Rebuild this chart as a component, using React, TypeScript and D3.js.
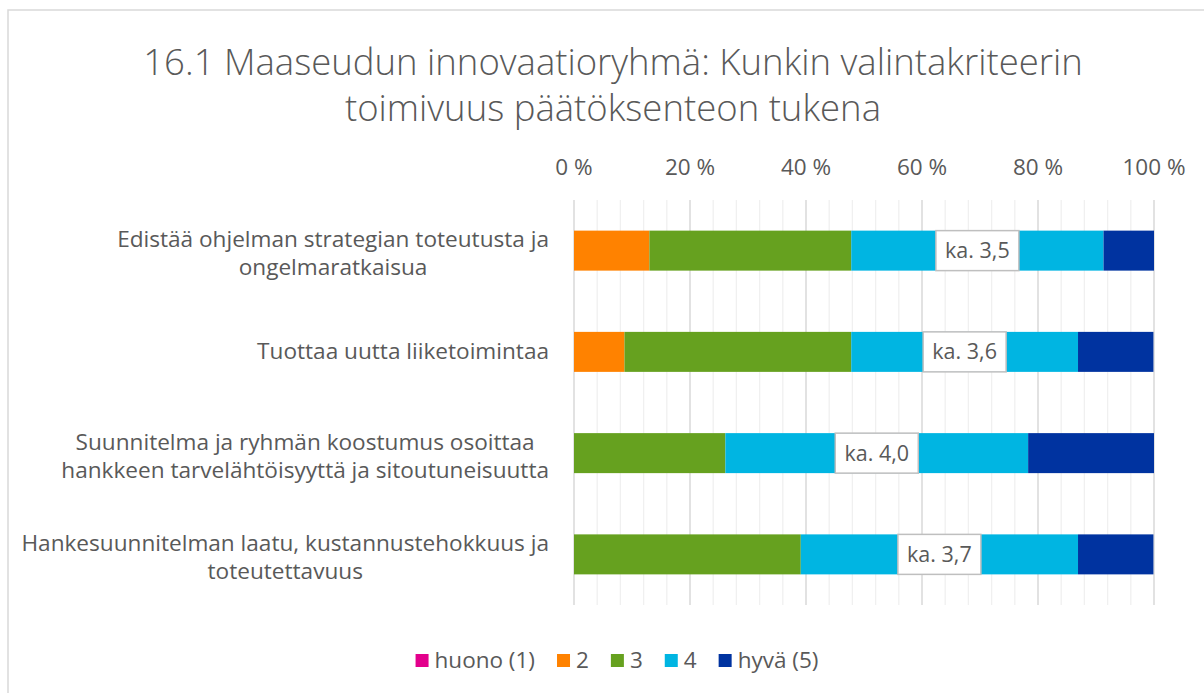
import React, { useEffect, useRef } from "react";
import * as d3 from "d3";

const titleLines = [
  "16.1 Maaseudun innovaatioryhmä: Kunkin valintakriteerin",
  "toimivuus päätöksenteon tukena",
];
const categories = [
  "Edistää ohjelman strategian toteutusta ja\nongelmaratkaisua",
  "Tuottaa uutta liiketoimintaa",
  "Suunnitelma ja ryhmän koostumus osoittaa\nhankkeen tarvelähtöisyyttä ja sitoutuneisuutta",
  "Hankesuunnitelman laatu, kustannustehokkuus ja\ntoteutettavuus",
];
const seriesNames = ["huono (1)", "2", "3", "4", "hyvä (5)"];
const huono1 = [0, 0, 0, 0];
const arvo2 = [13.0, 8.7, 0, 0];
const arvo3 = [34.8, 39.1, 26.1, 39.1];
const arvo4 = [43.5, 39.1, 52.2, 47.8];
const hyva5 = [8.7, 13.0, 21.7, 13.0];
const meanLabels = ["ka. 3,5", "ka. 3,6", "ka. 4,0", "ka. 3,7"];
const tickValues = [0, 20, 40, 60, 80, 100];
const colors = ["#E3008C", "#FF8200", "#66A11F", "#00B5E2", "#0033A0"];

const W = 1204;
const H = 693;
const FONT = "'Open Sans', 'Noto Sans', sans-serif";
const TXT = "#595959";

export default function App() {
  const ref = useRef<SVGSVGElement | null>(null);

  useEffect(() => {
    const svg = d3.select(ref.current);
    svg.selectAll("*").remove();

    // border
    svg.append("rect").attr("x", 8).attr("y", 10).attr("width", W).attr("height", H)
      .attr("fill", "#fff").attr("stroke", "#d9d9d9").attr("stroke-width", 1.5);

    // title
    const title = svg.append("text").attr("text-anchor", "middle").attr("fill", TXT)
      .attr("font-family", FONT).attr("font-size", 36.5).attr("font-weight", 300);
    titleLines.forEach((l, i) => {
      title.append("tspan").attr("x", 613).attr("y", 75 + i * 46).text(l);
    });

    const x = d3.scaleLinear().domain([0, 100]).range([574, 1154]);
    const yBand = d3.scaleBand<number>().domain(d3.range(categories.length)).range([200, 605]);

    // gridlines
    const minor = d3.range(0, 101, 4).filter((v) => v % 20 !== 0);
    svg.append("g").selectAll("line").data(minor).join("line")
      .attr("x1", (d) => x(d)).attr("x2", (d) => x(d)).attr("y1", 200).attr("y2", 605)
      .attr("stroke", "#f0f0f0").attr("stroke-width", 1.3);
    svg.append("g").selectAll("line").data(tickValues).join("line")
      .attr("x1", (d) => x(d)).attr("x2", (d) => x(d)).attr("y1", 200).attr("y2", 605)
      .attr("stroke", "#d9d9d9").attr("stroke-width", 1.5);

    // tick labels
    svg.append("g").selectAll("text").data(tickValues).join("text")
      .attr("x", (d) => x(d)).attr("y", 175).attr("text-anchor", "middle")
      .attr("font-family", FONT).attr("font-size", 22.5).attr("fill", TXT)
      .text((d) => `${d} %`);

    // stacked bars
    const series = [huono1, arvo2, arvo3, arvo4, hyva5];
    const rows = categories.map((_, i) => {
      const o: any = { i };
      seriesNames.forEach((s, k) => (o[s] = series[k][i]));
      return o;
    });
    const stacked = d3.stack<any>().keys(seriesNames)(rows);
    const bh = 40;
    stacked.forEach((layer, k) => {
      svg.append("g").attr("fill", colors[k]).selectAll("rect").data(layer).join("rect")
        .attr("x", (d) => x(d[0]))
        .attr("y", (d, i) => yBand(i)! + yBand.bandwidth() / 2 - bh / 2)
        .attr("width", (d) => Math.max(0, x(d[1]) - x(d[0])))
        .attr("height", bh);
    });

    // mean labels on series 4
    const s4 = stacked[3];
    s4.forEach((d, i) => {
      const cx = x((d[0] + d[1]) / 2);
      const cy = yBand(i)! + yBand.bandwidth() / 2;
      const bw = 83;
      svg.append("rect").attr("x", cx - bw / 2).attr("y", cy - bh / 2).attr("width", bw).attr("height", bh)
        .attr("fill", "#fff").attr("stroke", "#bfbfbf").attr("stroke-width", 1.5);
      svg.append("text").attr("x", cx).attr("y", cy + 7.5).attr("text-anchor", "middle")
        .attr("font-family", FONT).attr("font-size", 21.5).attr("fill", TXT).text(meanLabels[i]);
    });

    // category labels
    categories.forEach((c, i) => {
      const lines = c.split("\n");
      const cy = yBand(i)! + yBand.bandwidth() / 2 + (lines.length > 1 ? 3 : 0);
      const g = svg.append("text").attr("font-family", FONT).attr("font-size", 22.6)
        .attr("fill", TXT).attr("text-anchor", "middle");
      const spans = lines.map((l, j) =>
        g.append("tspan").attr("y", cy + 7.5 + (j - (lines.length - 1) / 2) * 28).text(l)
      );
      const maxW = d3.max(spans, (s) => (s.node() as SVGTSpanElement).getComputedTextLength()) || 0;
      const cxText = 549 - maxW / 2;
      spans.forEach((s) => s.attr("x", cxText));
    });

    // legend
    const lg = svg.append("g");
    let cur = 0;
    seriesNames.forEach((s, k) => {
      const t = lg.append("text").attr("y", 668).attr("font-family", FONT).attr("font-size", 22.5)
        .attr("fill", TXT).text(s);
      const w = (t.node() as SVGTextElement).getComputedTextLength();
      lg.append("rect").attr("x", cur).attr("y", 654).attr("width", 13).attr("height", 13).attr("fill", colors[k]);
      t.attr("x", cur + 19);
      cur += 19 + w + 22;
    });
    const total = cur - 22;
    lg.attr("transform", `translate(${617 - total / 2},0)`);
  }, []);

  return (
    <svg ref={ref} width={W} height={H} style={{ position: "absolute", left: 0, top: 0, background: "#fff" }} />
  );
}
